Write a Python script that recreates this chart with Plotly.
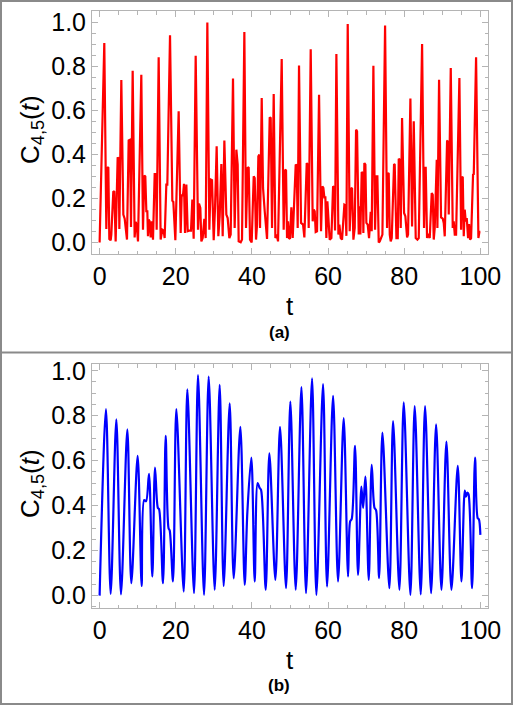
import plotly.graph_objects as go

# ---- data (t, C_{4,5}(t)) ----
red_points = [
    (0, 0), (1.23, 0.907), (1.76, 0.061), (2.03, 0.342), (2.29, 0.339), (2.55, 0.016), (2.9, 0.01),
    (3.07, 0.036), (3.6, 0.233), (3.86, 0.23), (4.21, 0.005), (4.74, 0.387), (5.0, 0.381), (5.18, 0.061),
    (5.7, 0.739), (6.23, 0.127), (6.58, 0.108), (7.19, 0.013), (7.63, 0.464), (7.98, 0.467), (8.24, 0.07),
    (8.68, 0.781), (9.2, 0.023), (9.47, 0.093), (9.73, 0.081), (10.08, 0.005), (10.95, 0.763), (11.39, 0.058),
    (11.74, 0.304), (12.0, 0.3), (12.27, 0.142), (12.53, 0.142), (12.7, 0.028), (12.88, 0.104), (13.14, 0.096),
    (13.41, 0.023), (13.76, 0.096), (14.02, 0.013), (14.46, 0.311), (14.81, 0.311), (14.98, 0.058),
    (15.51, 0.842), (16.03, 0.013), (16.47, 0.058), (16.82, 0.054), (17.08, 0.02), (17.52, 0.263),
    (17.78, 0.263), (18.49, 0.942), (19.1, 0.19), (19.36, 0.184), (19.89, 0.01), (20.76, 0.596),
    (21.29, 0.043), (21.55, 0.214), (21.9, 0.214), (22.16, 0.267), (22.43, 0.043), (22.78, 0.263),
    (23.13, 0.051), (23.65, 0.054), (24.0, 0.054), (24.35, 0.195), (24.7, 0.017), (25.23, 0.849),
    (25.84, 0.058), (26.1, 0.177), (26.45, 0.157), (26.72, 0.005), (27.07, 0.02), (27.5, 0.107),
    (27.85, 0.02), (28.29, 1.0), (28.82, 0.058), (29.17, 0.286), (29.52, 0.283), (29.96, 0.01),
    (30.31, 0.157), (30.74, 0.437), (31.18, 0.028), (31.53, 0.119), (31.97, 0.357), (32.32, 0.028),
    (32.76, 0.464), (33.28, 0.127), (33.63, 0.111), (34.07, 0.02), (34.42, 0.036), (35.03, 0.745),
    (35.47, 0.066), (35.91, 0.422), (36.26, 0.354), (36.52, 0.005), (37.05, 0.001), (37.4, 0.013),
    (38.01, 0.957), (38.45, 0.066), (38.89, 0.342), (39.15, 0.339), (39.5, 0.013), (39.94, 0.0),
    (40.47, 0.301), (40.73, 0.293), (41.08, 0.013), (41.34, 0.081), (41.69, 0.392), (41.95, 0.399),
    (42.13, 0.066), (42.57, 0.657), (42.92, 0.248), (43.36, 0.142), (43.62, 0.096), (43.97, 0.016),
    (44.67, 0.569), (44.93, 0.566), (45.28, 0.066), (45.72, 0.675), (46.16, 0.02), (46.51, 0.036),
    (46.86, 0.005), (47.82, 0.834), (48.34, 0.058), (48.7, 0.331), (48.96, 0.327), (49.22, 0.02),
    (49.48, 0.096), (49.75, 0.02), (50.01, 0.017), (50.36, 0.16), (50.71, 0.02), (51.5, 0.354),
    (51.76, 0.351), (52.02, 0.066), (52.37, 0.805), (52.9, 0.089), (53.43, 0.081), (53.77, 0.023),
    (54.39, 0.361), (54.65, 0.354), (54.91, 0.066), (55.44, 0.878), (55.96, 0.096), (56.23, 0.149),
    (56.49, 0.142), (56.75, 0.048), (57.1, 0.051), (57.63, 0.672), (58.15, 0.051), (58.5, 0.255),
    (58.76, 0.248), (59.02, 0.205), (59.29, 0.205), (59.55, 0.02), (59.82, 0.187), (60.08, 0.123),
    (60.43, 0.013), (60.87, 0.02), (61.31, 0.255), (61.57, 0.251), (61.83, 0.054), (62.18, 0.857),
    (62.71, 0.036), (62.97, 0.081), (63.32, 0.02), (63.67, 0.013), (64.28, 0.172), (64.54, 0.169),
    (64.81, 0.03), (65.16, 0.993), (65.68, 0.051), (66.03, 0.248), (66.3, 0.245), (66.65, 0.013),
    (67.0, 0.066), (67.35, 0.513), (67.61, 0.505), (68.05, 0.036), (68.22, 0.164), (68.48, 0.036),
    (68.83, 0.32), (69.09, 0.316), (69.27, 0.043), (69.53, 0.361), (69.8, 0.354), (70.06, 0.089),
    (70.41, 0.081), (70.76, 0.02), (71.03, 0.134), (71.2, 0.139), (71.46, 0.051), (71.9, 0.804),
    (72.34, 0.058), (72.69, 0.301), (72.95, 0.301), (73.3, 0.0), (73.57, 0.005), (73.92, 0.02),
    (74.27, 0.036), (74.97, 0.987), (75.49, 0.066), (75.75, 0.316), (75.93, 0.313), (76.2, 0.036),
    (76.45, 0.005), (76.72, 0.02), (77.33, 0.357), (77.5, 0.354), (77.95, 0.02), (78.3, 0.02),
    (78.56, 0.381), (78.82, 0.376), (79.08, 0.066), (79.43, 0.566), (79.96, 0.134), (80.3, 0.119),
    (80.75, 0.023), (81.0, 0.036), (81.62, 0.654), (82.06, 0.073), (82.5, 0.551), (83.02, 0.02),
    (83.46, 0.013), (83.81, 0.02), (84.69, 0.902), (85.2, 0.066), (85.47, 0.339), (85.64, 0.339),
    (85.99, 0.02), (86.26, 0.039), (86.7, 0.02), (87.22, 0.225), (87.49, 0.217), (87.75, 0.013),
    (88.01, 0.066), (88.37, 0.376), (88.54, 0.376), (88.71, 0.066), (89.15, 0.74), (89.67, 0.114),
    (90.12, 0.108), (90.38, 0.089), (90.64, 0.028), (91.25, 0.46), (91.43, 0.463), (91.69, 0.127),
    (92.22, 0.793), (92.74, 0.066), (93.0, 0.096), (93.27, 0.036), (93.62, 0.036), (94.49, 0.748),
    (94.93, 0.058), (95.19, 0.299), (95.37, 0.296), (95.63, 0.028), (95.89, 0.149), (96.15, 0.096),
    (96.42, 0.111), (96.77, 0.02), (97.03, 0.084), (97.29, 0.013), (97.56, 0.02), (98.08, 0.311),
    (98.26, 0.308), (98.87, 0.842), (99.48, 0.02), (99.75, 0.048), (100.0, 0.048),
]

blue_points = [
    (0, 0), (1.67, 0.829), (2.9, 0.008), (4.39, 0.784), (5.61, 0.006), (7.28, 0.739), (8.33, 0.055),
    (9.99, 0.622), (11.04, 0.043), (11.7, 0.425), (12.2, 0.42), (12.97, 0.541), (13.84, 0.085),
    (14.55, 0.569), (15.3, 0.39), (15.6, 0.385), (16.65, 0.055), (17.35, 0.71), (18.1, 0.3),
    (18.4, 0.29), (19.27, 0.063), (20.15, 0.83), (22.08, 0.018), (23.04, 0.917), (24.79, 0.011),
    (25.84, 0.981), (27.42, 0.003), (28.64, 0.974), (30.22, 0.026), (31.53, 0.937), (32.58, 0.043),
    (34.16, 0.855), (35.21, 0.077), (36.96, 0.751), (38.1, 0.048), (38.8, 0.37), (39.85, 0.614),
    (40.73, 0.063), (41.5, 0.5), (42.0, 0.48), (42.4, 0.47), (43.62, 0.026), (44.58, 0.633),
    (46.16, 0.07), (47.38, 0.751), (48.96, 0.033), (50.09, 0.863), (51.5, 0.026), (53.0, 0.927),
    (54.21, 0.011), (55.79, 0.966), (56.93, 0.003), (58.68, 0.941), (59.73, 0.04), (61.31, 0.888),
    (62.62, 0.063), (64.1, 0.789), (65.25, 0.085), (65.8, 0.33), (66.2, 0.34), (67.08, 0.666),
    (67.87, 0.092), (68.75, 0.485), (69.2, 0.39), (69.8, 0.529), (70.68, 0.07), (71.46, 0.581),
    (72.2, 0.39), (72.6, 0.38), (73.4, 0.078), (74.27, 0.725), (76.1, 0.033), (77.07, 0.776),
    (78.73, 0.026), (79.87, 0.86), (81.62, 0.003), (82.75, 0.843), (84.33, 0.006), (85.47, 0.843),
    (87.05, 0.011), (88.37, 0.762), (89.77, 0.026), (91.08, 0.685), (92.39, 0.026), (94.06, 0.577),
    (95.02, 0.063), (95.89, 0.467), (96.2, 0.44), (96.6, 0.458), (96.9, 0.45), (97.82, 0.033),
    (98.6, 0.614), (99.3, 0.344), (99.6, 0.34), (100.0, 0.27),
]

red_t = [p[0] for p in red_points]
red_v = [p[1] for p in red_points]
blue_t = [p[0] for p in blue_points]
blue_v = [p[1] for p in blue_points]

x_ticks = [0, 20, 40, 60, 80, 100]
y_ticks = [0.0, 0.2, 0.4, 0.6, 0.8, 1.0]
y_title = "C<sub>4,5</sub>(<i>t</i>)"
x_title = "t"
panel_labels = ["(a)", "(b)"]

W, H = 515, 706
FONT = "Liberation Sans, Arial, sans-serif"
FRAME = "#b4b4b4"

def px(x):
    return x / W

def py(y):
    return 1 - y / H

fig = go.Figure()
fig.add_trace(go.Scatter(x=red_t, y=red_v, mode="lines",
                         line=dict(color="#ff0000", width=2.2), xaxis="x", yaxis="y"))
fig.add_trace(go.Scatter(x=blue_t, y=blue_v, mode="lines",
                         line=dict(color="#0000ff", width=2.2, shape="spline", smoothing=0.9),
                         xaxis="x2", yaxis="y2"))

def xax(domain, anchor):
    return dict(domain=domain, anchor=anchor, range=[-2, 102], tickvals=x_ticks,
                automargin=False,
                ticks="inside", ticklen=6, tickcolor=FRAME, tickwidth=1,
                showline=True, linecolor=FRAME, linewidth=1, mirror="allticks",
                showgrid=False, zeroline=False,
                minor=dict(dtick=5, tick0=0, ticks="inside", ticklen=3.5, tickcolor=FRAME),
                tickfont=dict(family=FONT, size=25, color="black"))

def yax(domain, anchor, rng):
    return dict(domain=domain, anchor=anchor, range=rng, tickvals=y_ticks, tickformat=".1f",
                automargin=False,
                ticks="inside", ticklen=6, tickcolor=FRAME, tickwidth=1,
                showline=True, linecolor=FRAME, linewidth=1, mirror="allticks",
                showgrid=False, zeroline=False,
                minor=dict(dtick=0.05, tick0=0, ticks="inside", ticklen=3.5, tickcolor=FRAME),
                tickfont=dict(family=FONT, size=25, color="black"))

xdom = [px(92), px(488)]
fig.update_layout(
    template="none",
    width=W, height=H, margin=dict(l=0, r=0, t=0, b=0, pad=0, autoexpand=False),
    paper_bgcolor="white", plot_bgcolor="white", showlegend=False,
    xaxis=xax(xdom, "y"),
    yaxis=yax([py(254), py(11)], "x", [-0.0525, 1.0525]),
    xaxis2=xax(xdom, "y2"),
    yaxis2=yax([py(608), py(364)], "x2", [-0.055, 1.03]),
)

ann = []
for yc in (130, 484):
    ann.append(dict(x=px(31), y=py(yc), xref="paper", yref="paper", text=y_title, textangle=-90,
                    showarrow=False, font=dict(family=FONT, size=26, color="black"),
                    xanchor="center", yanchor="middle"))
for i, (t_y, lab_y) in enumerate([(306, 332), (660, 685)]):
    ann.append(dict(x=px(290), y=py(t_y), xref="paper", yref="paper", text=x_title,
                    showarrow=False, font=dict(family=FONT, size=26, color="black"),
                    xanchor="center", yanchor="middle"))
    ann.append(dict(x=px(279), y=py(lab_y), xref="paper", yref="paper", text="<b>" + panel_labels[i] + "</b>",
                    showarrow=False, font=dict(family=FONT, size=17, color="black"),
                    xanchor="center", yanchor="middle"))
fig.update_layout(annotations=ann)

shapes = [
    dict(type="rect", xref="paper", yref="paper", x0=px(1), x1=px(512), y0=py(704), y1=py(1),
         line=dict(color="#8a8a8a", width=2)),
    dict(type="line", xref="paper", yref="paper", x0=px(1), x1=px(512), y0=py(352.5), y1=py(352.5),
         line=dict(color="#8a8a8a", width=2)),
]
fig.update_layout(shapes=shapes)

fig.write_html("out.html", config={"displayModeBar": False},
               post_script="document.body.style.margin='0';document.body.style.overflow='hidden';")
